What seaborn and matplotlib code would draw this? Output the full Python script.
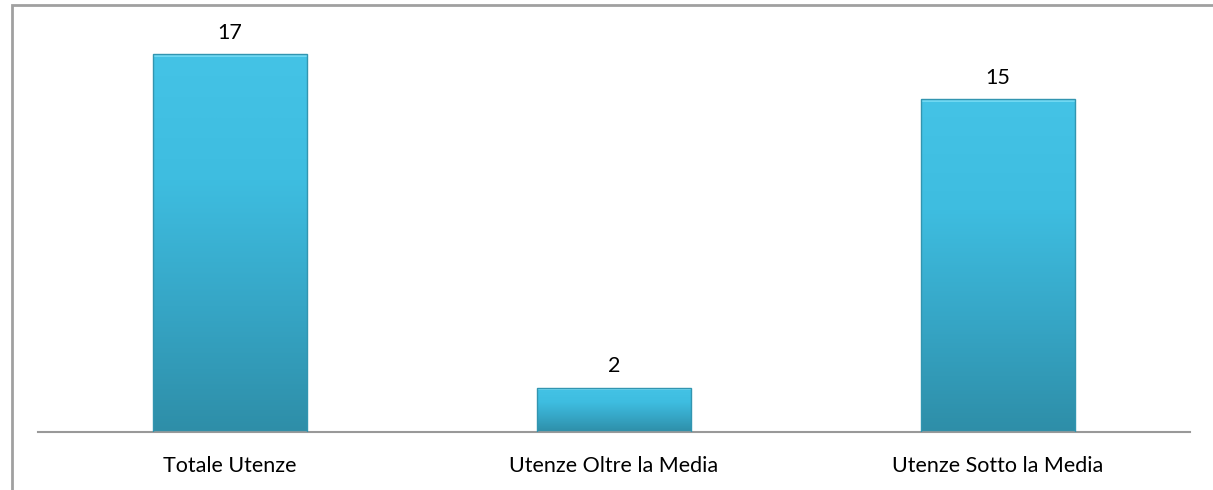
import numpy as np
import pandas as pd
import matplotlib
matplotlib.use('Agg')
import matplotlib.pyplot as plt
import seaborn as sns
from matplotlib.patches import Rectangle
from matplotlib.colors import LinearSegmentedColormap

# Data
categories = ['Totale Utenze', 'Utenze Oltre la Media', 'Utenze Sotto la Media']
values = [17, 2, 15]

sns.set_theme(style='white')
plt.rcParams['font.family'] = ['Lato', 'DejaVu Sans']

df = pd.DataFrame({'categoria': categories, 'valore': values})

fig = plt.figure(figsize=(12.13, 4.9), dpi=100)
ax = fig.add_axes([38 / 1213, 58 / 490, 1152 / 1213, 422 / 490])

sns.barplot(data=df, x='categoria', y='valore', color='#3bb8dc', width=0.40,
            saturation=1, ax=ax, edgecolor='none')

# vertical gradient on each bar, light on top and darker at the bottom
grad_cmap = LinearSegmentedColormap.from_list('bar', ['#2e8ea8', '#36a6c6', '#3ebde0', '#44c3e6'])
for p in ax.patches:
    x0, w, h = p.get_x(), p.get_width(), p.get_height()
    img = ax.imshow(np.linspace(0, 1, 256).reshape(-1, 1), cmap=grad_cmap, aspect='auto',
                    extent=[x0, x0 + w, 0, h], origin='lower', zorder=p.get_zorder() + 0.1)
    img.set_clip_path(p)
    # thin highlight at the top and soft edges
    ax.add_patch(Rectangle((x0, h - 0.12), w, 0.12, color='#6fd8f2', lw=0, zorder=3))
    ax.add_patch(Rectangle((x0, 0), w, h, fill=False, edgecolor='#3295b0', lw=1.0, zorder=3))
    ax.annotate(f'{h:.0f}', (x0 + w / 2, h), xytext=(0, 11), textcoords='offset points',
                ha='center', va='baseline', fontsize=15.5, color='#000000')

ax.set_ylim(0, 19)
ax.set_xlim(-0.5, 2.5)
ax.set_xlabel('')
ax.set_ylabel('')
ax.set_yticks([])
ax.tick_params(axis='x', length=0, pad=17, labelsize=15.5, labelcolor='#000000')
for s in ['top', 'right', 'left']:
    ax.spines[s].set_visible(False)
ax.spines['bottom'].set_color('#999999')
ax.spines['bottom'].set_linewidth(1.5)
ax.set_facecolor('none')

# frame around the chart area
fig.patches.append(Rectangle((12 / 1213, -0.1), 1.2, (490 - 5) / 490 + 0.1, transform=fig.transFigure,
                             fill=False, edgecolor='#a0a0a0', lw=2, figure=fig))

fig.savefig('out.png', dpi=100)
